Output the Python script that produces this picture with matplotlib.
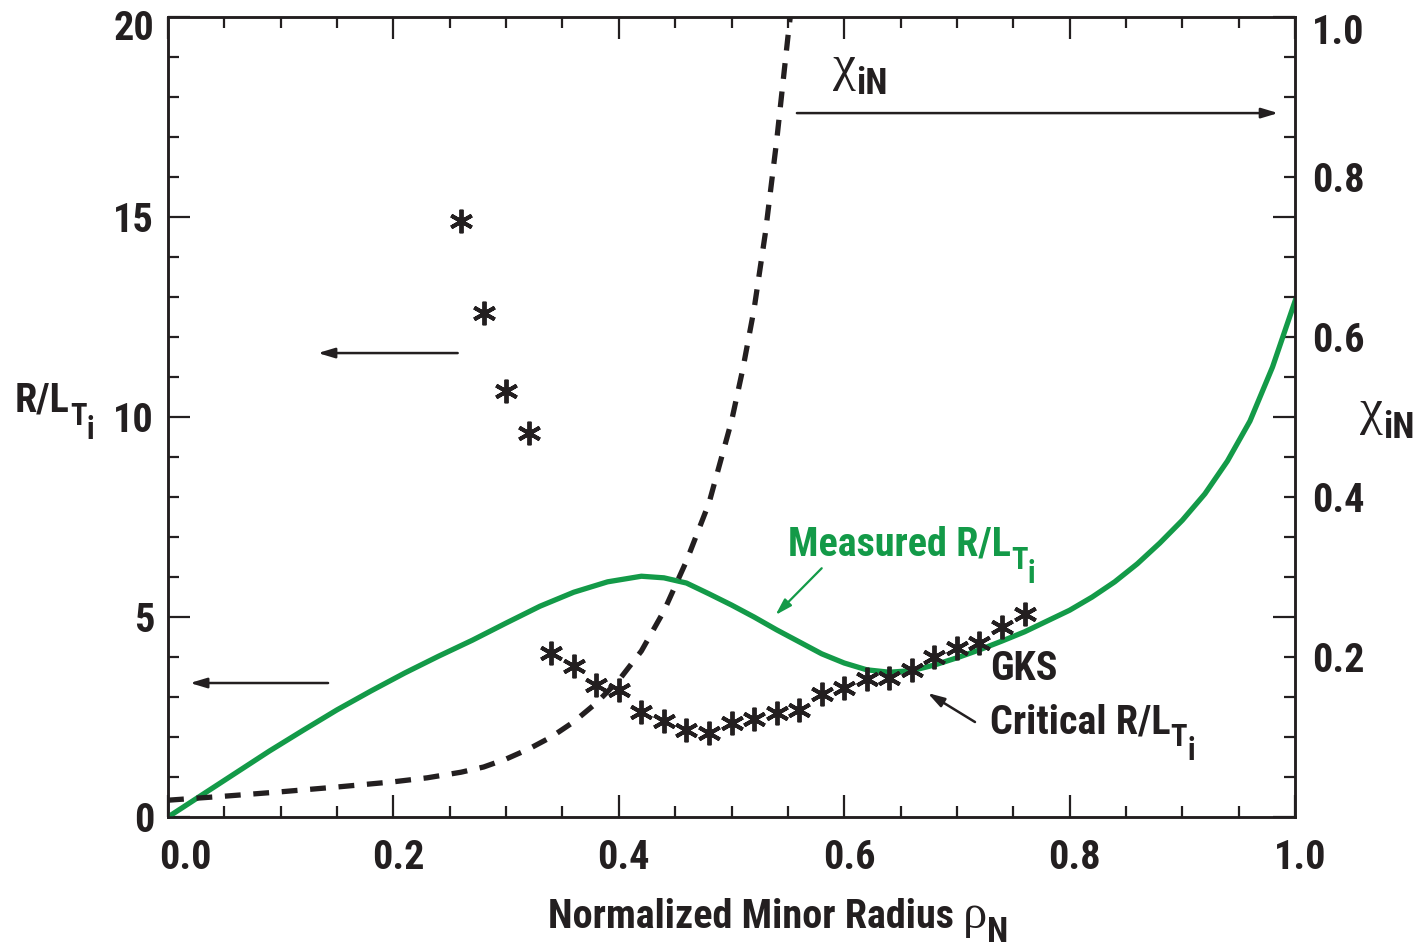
import matplotlib
matplotlib.use("Agg")
import matplotlib.pyplot as plt
import matplotlib.font_manager as fm
import matplotlib.transforms as mtransforms
from matplotlib.ticker import MultipleLocator

# dane: zmierzony R/LTi (zielona), chi_iN (przerywana), krytyczny R/LTi z GKS (gwiazdki)
rho_meas = [0.0, 0.03, 0.06, 0.09, 0.12, 0.15, 0.18, 0.21, 0.24, 0.27, 0.30, 0.33, 0.36,
            0.39, 0.42, 0.44, 0.46, 0.48, 0.50, 0.52, 0.54, 0.56, 0.58, 0.60, 0.62,
            0.64, 0.66, 0.68, 0.70, 0.72, 0.74, 0.76, 0.78, 0.80, 0.82, 0.84, 0.86,
            0.88, 0.90, 0.92, 0.94, 0.96, 0.98, 1.0]
rlti_meas = [0.0, 0.55, 1.1, 1.65, 2.17, 2.68, 3.15, 3.6, 4.02, 4.42, 4.85, 5.27, 5.62,
             5.88, 6.02, 5.98, 5.85, 5.58, 5.3, 5.0, 4.68, 4.38, 4.08, 3.85, 3.68,
             3.62, 3.66, 3.8, 3.98, 4.18, 4.4, 4.63, 4.9, 5.17, 5.5, 5.88, 6.33,
             6.85, 7.42, 8.08, 8.9, 9.9, 11.25, 12.9]

rho_chi = [0.0, 0.05, 0.10, 0.15, 0.20, 0.23, 0.26, 0.28, 0.30, 0.32, 0.34, 0.36, 0.38,
           0.40, 0.42, 0.44, 0.46, 0.48, 0.50, 0.51, 0.52, 0.53, 0.54, 0.55, 0.555]
chi_in = [0.021, 0.026, 0.0315, 0.0375, 0.044, 0.049, 0.056, 0.0625, 0.0725, 0.085,
          0.1, 0.119, 0.1425, 0.171, 0.2075, 0.2575, 0.32, 0.3925, 0.495, 0.56, 0.635,
          0.73, 0.845, 0.975, 1.035]

rho_gks = [0.26, 0.28, 0.30, 0.32, 0.34, 0.36, 0.38, 0.40, 0.42, 0.44, 0.46, 0.48, 0.50,
           0.52, 0.54, 0.56, 0.58, 0.60, 0.62, 0.64, 0.66, 0.68, 0.70, 0.72, 0.74, 0.76]
rlti_gks = [14.9, 12.6, 10.65, 9.6, 4.1, 3.78, 3.3, 3.17, 2.63, 2.4, 2.17, 2.1, 2.35,
            2.45, 2.6, 2.68, 3.08, 3.23, 3.44, 3.47, 3.68, 4.0, 4.22, 4.34, 4.75, 5.07]

xtick_vals = [0.0, 0.2, 0.4, 0.6, 0.8, 1.0]
xtick_labels = ['0.0', '0.2', '0.4', '0.6', '0.8', '1.0']
ytick_vals = [0, 5, 10, 15, 20]
chi_ticks = [0.2, 0.4, 0.6, 0.8, 1.0]
chi_labels = ['0.2', '0.4', '0.6', '0.8', '1.0']

INK = '#231f20'
GREEN = '#139a48'
SERIF = 'Liberation Serif'

# szukamy wąskiej czcionki, jeśli jest
names = {f.name for f in fm.fontManager.ttflist}
narrow = None
for cand in ['Liberation Sans Narrow', 'Roboto Condensed', 'Open Sans Condensed',
             'Noto Sans Condensed', 'DejaVu Sans Condensed']:
    if cand in names:
        narrow = cand
        break
stretch = 'normal'
if narrow is None:
    cond = [f for f in fm.fontManager.ttflist
            if f.stretch in ('condensed', 'semi-condensed') and 'Sans' in f.name]
    if cond:
        narrow = cond[0].name
        stretch = cond[0].stretch
if narrow is None:
    MAIN, FS = 'Liberation Sans', 26
else:
    MAIN, FS = narrow, 29

plt.rcParams['font.family'] = [MAIN, 'DejaVu Sans']
plt.rcParams['font.weight'] = 'bold'
plt.rcParams['font.stretch'] = stretch
plt.rcParams['axes.labelweight'] = 'bold'
plt.rcParams['text.color'] = INK

W, H = 1418, 950
fig = plt.figure(figsize=(W / 100, H / 100), dpi=100)
ax = fig.add_axes([0.1185, 0.14, 0.7948, 0.842])
ax2 = ax.twinx()

ax.plot(rho_meas, rlti_meas, color=GREEN, lw=3.8, zorder=3)
ax.plot(rho_gks, rlti_gks, ls='none', marker=(6, 2, 0), ms=17, mew=2.8,
        color=INK, zorder=4)
ax2.plot(rho_chi, chi_in, color=INK, lw=3.8, ls=(0, (3.0, 2.4)), zorder=3)

ax.set_xlim(0, 1)
ax.set_ylim(0, 20)
ax2.set_ylim(0, 1)

ax.set_xticks(xtick_vals)
ax.set_xticklabels(xtick_labels)
ax.set_yticks(ytick_vals)
ax.set_yticklabels([str(v) for v in ytick_vals])
ax.xaxis.set_minor_locator(MultipleLocator(0.05))
ax.yaxis.set_minor_locator(MultipleLocator(1))
ax.tick_params(which='both', direction='in', top=True, right=True, color=INK,
               width=1.6, labelsize=FS, labelcolor=INK)
ax.tick_params(which='major', length=16)
ax.tick_params(which='minor', length=8)
ax.tick_params(axis='x', pad=16)
ax.tick_params(axis='y', pad=10)

ax2.set_yticks(chi_ticks)
ax2.set_yticklabels(chi_labels)
ax2.tick_params(axis='y', length=0, pad=12, labelsize=FS, labelcolor=INK)

for a in (ax, ax2):
    for s in a.spines.values():
        s.set_linewidth(1.8)
        s.set_color(INK)


def nudge(label, dx_px, dy_px):
    label.set_transform(label.get_transform() + mtransforms.ScaledTranslation(
        dx_px / 100, dy_px / 100, fig.dpi_scale_trans))


# drobne przesunięcia etykiet jak w oryginale
nudge(ax.get_yticklabels()[-1], 0, -8)
nudge(ax2.get_yticklabels()[-1], 0, -12)
for i, lab in enumerate(ax.get_xticklabels()):
    nudge(lab, 17 if i == 0 else 5, 0)

renderer = fig.canvas.get_renderer()


def rich(px, py, pieces, color=INK):
    """Tekst z indeksami: kawałki (tekst, rozmiar, obniżenie w px, rodzina)."""
    dx = 0.0
    for s, size, dy, family in pieces:
        tr = mtransforms.offset_copy(fig.transFigure, fig=fig, x=dx, y=-dy, units='dots')
        weight = 'normal' if family == SERIF else 'bold'
        t = fig.text(px / W, 1 - py / H, s, fontsize=size, family=family,
                     weight=weight, color=color, transform=tr, va='baseline')
        dx += t.get_window_extent(renderer).width


def rlt(px, py, color=INK, prefix=''):
    rich(px, py, [(prefix + 'R/L', FS, 0, MAIN), ('T', FS - 7, 13, MAIN),
                  ('i', FS - 7, 27, MAIN)], color=color)


def chi(px, py, size):
    rich(px, py, [('χ', size + 8, 0, SERIF), ('iN', size - 3, 14, MAIN)])


# osie: opisy
rich(548, 928, [('Normalized Minor Radius ', FS, 0, MAIN), ('ρ', FS + 6, 0, SERIF),
                ('N', FS - 4, 14, MAIN)])
rlt(15, 412)
chi(1360, 424, FS)

# podpisy i strzałki
chi(833, 80, FS)
rlt(788, 556, color=GREEN, prefix='Measured ')
rich(990, 680, [('GKS', FS, 0, MAIN)])
rlt(990, 733, prefix='Critical ')


def arrow(x0, y0, x1, y1, color=INK, lw=1.8):
    ax.annotate('', xy=(x1, y1), xytext=(x0, y0),
                arrowprops=dict(arrowstyle='-|>,head_length=1.0,head_width=0.3',
                                color=color, lw=lw, shrinkA=0, shrinkB=0))


arrow(0.558, 17.6, 0.985, 17.6)
arrow(0.257, 11.6, 0.133, 11.6)
arrow(0.142, 3.35, 0.0195, 3.35)
arrow(0.580, 6.22, 0.539, 5.05, color=GREEN, lw=1.6)
arrow(0.716, 2.375, 0.674, 3.1)

fig.savefig('out.png', dpi=100)
